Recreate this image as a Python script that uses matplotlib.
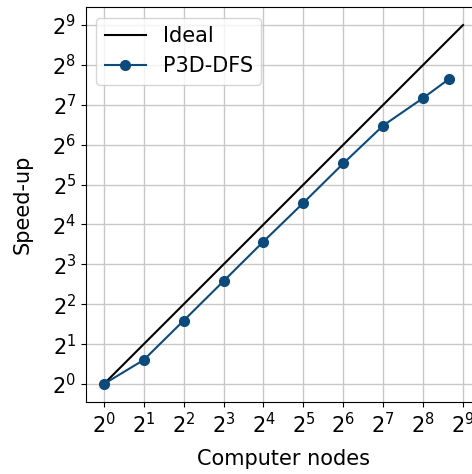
import matplotlib
matplotlib.use("Agg")
import matplotlib.pyplot as plt
import numpy as np

# nodes vs measured speed-up
nodes = [1, 2, 4, 8, 16, 32, 64, 128, 256, 400]
speedup = [1.0, 1.52, 3.01, 5.98, 11.9, 23.3, 46.2, 89.3, 144, 200]
ideal_nodes = [1, 512]

fig = plt.figure(figsize=(4.72, 4.74), dpi=100)
ax = fig.add_axes([0.182, 0.152, 0.837, 0.833])

ax.plot(ideal_nodes, ideal_nodes, color="black", lw=1.5, label="Ideal")
ax.plot(nodes, speedup, color="#0b4a7a", lw=1.5, marker="o", markersize=7,
        label="P3D-DFS")

ax.set_xscale("log", base=2)
ax.set_yscale("log", base=2)
ax.set_xticks([2**i for i in range(10)])
ax.set_yticks([2**i for i in range(10)])
ax.minorticks_off()
ax.set_xlim(2**-0.45, 2**9.45)
ax.set_ylim(2**-0.45, 2**9.45)
ax.tick_params(labelsize=15)
ax.grid(True, color="#c8c8c8", lw=1)
ax.set_axisbelow(True)

ax.set_xlabel("Computer nodes", fontsize=15, labelpad=9)
ax.set_ylabel("Speed-up", fontsize=15, labelpad=14)
ax.legend(loc="upper left", fontsize=15)

fig.savefig("out.png", dpi=100)
